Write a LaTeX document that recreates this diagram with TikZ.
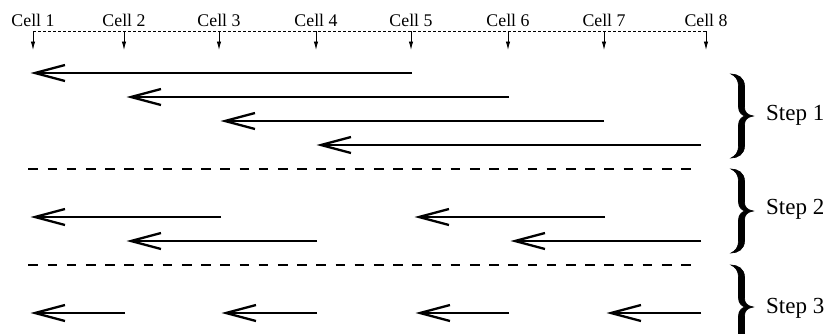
\documentclass[tikz,border=0pt]{standalone}
\usepackage{fontspec}
\setmainfont{Liberation Serif}
\usetikzlibrary{arrows.meta}
\tikzset{
  celllabel/.style={font=\fontsize{17.8}{20}\selectfont, inner sep=0pt, anchor=base},
  steplabel/.style={font=\fontsize{23}{26}\selectfont, inner sep=0pt, anchor=base west},
  tickline/.style={line width=0.9pt, -{Latex[length=8.5pt,width=4.5pt]}},
  scaleline/.style={line width=0.9pt, dash pattern=on 3pt off 2pt},
  bigarrow/.style={line width=2.3pt, -{Straight Barb[length=30pt,width=16pt]}},
  sepline/.style={line width=2.2pt, dash pattern=on 9.6pt off 9.6pt},
  bracepic/.pic={
    \filldraw[line width=0.6pt]
      (0,-42) .. controls (7,-42) and (13.5,-38) .. (13.5,-30) -- (13.5,-9)
      .. controls (13.5,-4) and (16,-1) .. (22.5,0)
      .. controls (16,1) and (13.5,4) .. (13.5,9) -- (13.5,30)
      .. controls (13.5,38) and (7,42) .. (0,42)
      .. controls (4.5,40) and (7.5,36) .. (7.5,30) -- (7.5,9)
      .. controls (7.5,4) and (10.5,1) .. (14,0)
      .. controls (10.5,-1) and (7.5,-4) .. (7.5,-9) -- (7.5,-30)
      .. controls (7.5,-36) and (4.5,-40) .. (0,-42) -- cycle;
  }
}
\begin{document}
\begin{tikzpicture}[x=1pt,y=-1pt]
\useasboundingbox (0,0) rectangle (827,333);
\clip (0,0) rectangle (827,333);
% cell labels and ticks
\foreach \i/\x in {1/33,2/124,3/219,4/316,5/411,6/508,7/604,8/706} {
  \node[celllabel] (cell\i) at (\x,26) {Cell \i};
  \coordinate (top\i) at (\x,31);
  \coordinate (bot\i) at (\x,50);
  \draw[tickline] (top\i) -- (bot\i);
}
\draw[scaleline] (top1) -- (top8);
% arrows
\foreach \n/\y/\s/\e in {r1/73/412/30.5, r2/97/509/126.5, r3/121/604/220.5, r4/145/701/316.5,
  s1/217/221/30.5, s2/217/605/414.5, s3/241/317/126.5, s4/241/701/510.5,
  u1/313/125/30.5, u2/313/317/221.5, u3/313/509/415.5, u4/313/701/606.5} {
  \coordinate (\n-s) at (\s,\y);
  \coordinate (\n-e) at (\e,\y);
  \draw[bigarrow] (\n-s) -- (\n-e);
}
% separators
\coordinate (d1a) at (28.3,169.3);
\coordinate (d1b) at (690.7,169.3);
\coordinate (d2a) at (28.3,265.3);
\coordinate (d2b) at (690.7,265.3);
\draw[sepline] (d1a) -- (d1b);
\draw[sepline] (d2a) -- (d2b);
% braces
\pic at (731,116) {bracepic};
\pic at (731,211) {bracepic};
\pic at (731,307) {bracepic};
% step labels
\node[steplabel] (step1) at (766,120.5) {Step 1};
\node[steplabel] (step2) at (766,214.5) {Step 2};
\node[steplabel] (step3) at (766,313) {Step 3};
\end{tikzpicture}
\end{document}
